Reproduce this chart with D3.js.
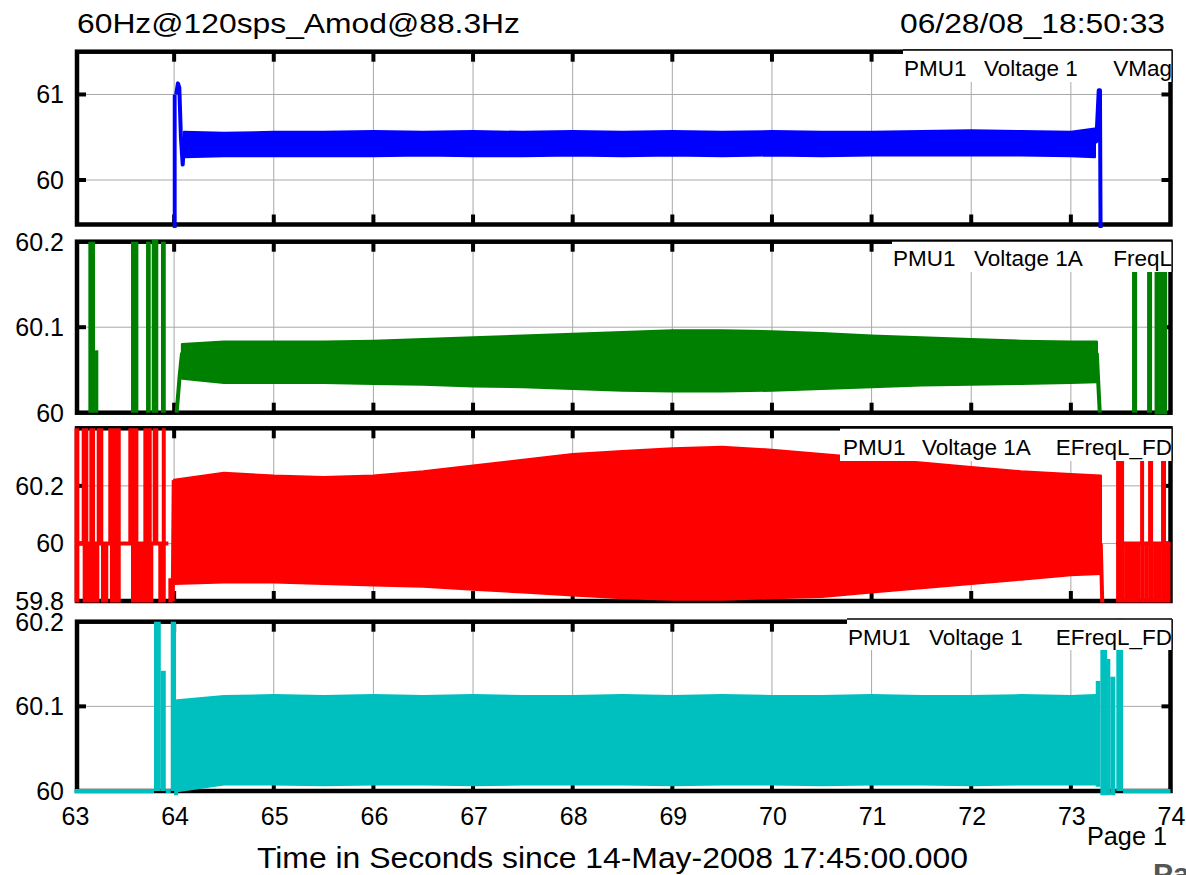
<!DOCTYPE html>
<html><head><meta charset="utf-8">
<script src="https://cdn.jsdelivr.net/npm/d3@7"></script>
<style>
body{margin:0;background:#fff;}
svg{display:block;}
text{font-family:"Liberation Sans",Arial,Helvetica,sans-serif;fill:#000;}
</style>
</head><body>
<svg id="c" width="1186" height="875"></svg>
<script>
// ---------------- DATA ----------------
const xTickValues = [63,64,65,66,67,68,69,70,71,72,73,74];
const xTickLabels = ["63","64","65","66","67","68","69","70","71","72","73","74"];
const titleLeft = "60Hz@120sps_Amod@88.3Hz";
const titleRight = "06/28/08_18:50:33";
const xAxisTitle = "Time in Seconds since 14-May-2008 17:45:00.000";
const pageLabel = "Page 1";

// Panel 1: PMU1 Voltage 1 VMag (envelope of the dense oscillation)
const vmagTimes = [64.1,64.5,65,65.5,66,66.5,67,67.5,68,68.5,69,69.5,70,70.5,71,71.5,72,72.5,73,73.24];
const vmagUpper = [60.56,60.55,60.56,60.56,60.57,60.56,60.57,60.56,60.57,60.56,60.57,60.56,60.57,60.56,60.56,60.57,60.58,60.57,60.56,60.60];
const vmagLower = [60.27,60.28,60.28,60.28,60.28,60.29,60.28,60.28,60.29,60.28,60.29,60.28,60.29,60.28,60.29,60.29,60.29,60.29,60.28,60.27];
const vmagBlocks = [[63.986,64.025,59.44,61.0]];
const vmagTraces = [
  [[64.02,61.0],[64.038,61.13],[64.052,61.08],[64.068,60.5],[64.086,60.18],[64.1,60.45]],
  [[73.24,60.6],[73.255,60.45],[73.28,61.05],[73.292,61.05],[73.298,59.44]]
];
const vmagYTicks = [60,61];
const vmagYLabels = ["60","61"];

// Panel 2: PMU1 Voltage 1A FreqL
const freqTimes = [64.08,64.5,65,65.5,66,66.5,67,67.5,68,68.5,69,69.5,70,70.5,71,71.5,72,72.5,73,73.26];
const freqUpper = [60.080,60.083,60.083,60.083,60.084,60.086,60.088,60.090,60.092,60.094,60.096,60.096,60.095,60.093,60.090,60.088,60.086,60.084,60.083,60.083];
const freqLower = [60.040,60.035,60.035,60.035,60.034,60.033,60.031,60.030,60.028,60.026,60.025,60.025,60.026,60.028,60.030,60.032,60.033,60.034,60.035,60.036];
const freqBlocks = [
  [63.139,63.206,60,60.2],[63.206,63.239,60,60.073],[63.567,63.641,60,60.2],
  [63.718,63.765,60,60.2],[63.775,63.841,60,60.202],[63.868,63.916,60,60.2],
  [73.614,73.665,60,60.2],[73.765,73.815,60,60.2],[73.84,73.966,59.998,60.2]
];
const freqTraces = [
  [[64.025,60.0],[64.055,60.042],[64.07,60.06],[64.08,60.07]],
  [[73.26,60.07],[73.29,60.0]]
];
const freqYTicks = [60,60.1,60.2];
const freqYLabels = ["60","60.1","60.2"];

// Panel 3: PMU1 Voltage 1A EFreqL_FD
const efreqATimes = [64.0,64.5,65,65.5,66,66.5,67,67.5,68,68.5,69,69.5,70,70.5,71,71.5,72,72.5,73,73.3];
const efreqAUpper = [60.22,60.245,60.235,60.23,60.235,60.25,60.27,60.29,60.31,60.32,60.33,60.335,60.325,60.31,60.295,60.28,60.265,60.25,60.24,60.235];
const efreqALower = [59.86,59.865,59.865,59.86,59.855,59.85,59.84,59.83,59.82,59.81,59.805,59.805,59.81,59.815,59.83,59.845,59.86,59.875,59.89,59.895];
const efreqABlocks = [
  [63.0,63.045,59.795,60.4],
  [63.072,63.139,60,60.4],[63.149,63.206,60,60.4],[63.223,63.289,60,60.4],[63.339,63.464,60,60.4],
  [63.540,63.641,60,60.4],[63.691,63.775,60,60.4],[63.785,63.841,60,60.4],[63.876,63.916,60,60.4],
  [63.082,63.249,59.795,60],[63.266,63.339,59.795,60],[63.356,63.464,59.795,60],
  [63.567,63.791,59.795,60],[63.841,63.916,59.795,60],[63.942,63.986,59.795,59.879],
  [73.454,73.534,59.795,60.4],[73.534,73.695,59.795,60],[73.695,73.735,59.795,60.4],
  [73.735,73.775,59.795,60],[73.775,73.825,59.795,60.4],[73.825,73.905,59.795,60],
  [73.905,73.955,59.795,60.4],[73.955,74.0,59.795,60]
];
const efreqATraces = [
  [[63.035,60.0],[63.942,60.0]],
  [[63.986,59.8],[63.996,60.22]],
  [[73.3,60.0],[73.315,59.795]],
  [[73.454,60.0],[74.0,60.0]]
];
const efreqAYTicks = [59.8,60,60.2];
const efreqAYLabels = ["59.8","60","60.2"];

// Panel 4: PMU1 Voltage 1 EFreqL_FD
const efreqTimes = [64.03,64.5,65,65.5,66,66.5,67,67.5,68,68.5,69,69.5,70,70.5,71,71.5,72,72.5,73,73.25];
const efreqUpper = [60.107,60.112,60.113,60.112,60.113,60.112,60.113,60.112,60.112,60.113,60.112,60.113,60.112,60.112,60.113,60.112,60.112,60.113,60.112,60.113];
const efreqLower = [60.000,60.008,60.008,60.007,60.008,60.008,60.007,60.008,60.008,60.008,60.007,60.008,60.008,60.007,60.008,60.008,60.007,60.008,60.008,60.008];
const efreqBlocks = [
  [63.798,63.866,60,60.2],[63.866,63.916,60,60.142],[63.966,64.019,60,60.2],
  [73.25,73.296,60.005,60.13],[73.296,73.363,59.995,60.2],[73.363,73.396,59.995,60.156],
  [73.396,73.446,59.995,60.135],[73.456,73.524,60,60.205]
];
const efreqTraces = [
  [[63.0,60.0],[63.798,60.0]],
  [[63.916,60.0],[63.966,60.0]],
  [[64.019,59.995],[64.03,60.05]],
  [[73.524,60.0],[74.0,60.0]]
];
const efreqYTicks = [60,60.1,60.2];
const efreqYLabels = ["60","60.1","60.2"];

// ---------------- LAYOUT ----------------
const panels = [
  {top:51.7,bottom:224.5,domain:[59.48,61.5],color:"#0000ff",
   times:vmagTimes,upper:vmagUpper,lower:vmagLower,blocks:vmagBlocks,traces:vmagTraces,
   yTicks:vmagYTicks,yLabels:vmagYLabels,grid:[60,61],
   box:{x0:903,y0:50,y1:82,base:76,tx:[904,984]},label:["PMU1","Voltage 1","VMag"]},
  {top:241.7,bottom:412.7,domain:[60,60.2],color:"#008000",
   times:freqTimes,upper:freqUpper,lower:freqLower,blocks:freqBlocks,traces:freqTraces,
   yTicks:freqYTicks,yLabels:freqYLabels,grid:[60.1],
   box:{x0:892,y0:241,y1:272,base:266,tx:[893,974]},label:["PMU1","Voltage 1A","FreqL"]},
  {top:428.3,bottom:601,domain:[59.8,60.4],color:"#ff0000",
   times:efreqATimes,upper:efreqAUpper,lower:efreqALower,blocks:efreqABlocks,traces:efreqATraces,
   yTicks:efreqAYTicks,yLabels:efreqAYLabels,grid:[60,60.2],
   box:{x0:840,y0:428,y1:461,base:455,tx:[843,922]},label:["PMU1","Voltage 1A","EFreqL_FD"]},
  {top:621.7,bottom:791,domain:[60,60.2],color:"#00bfbf",
   times:efreqTimes,upper:efreqUpper,lower:efreqLower,blocks:efreqBlocks,traces:efreqTraces,
   yTicks:efreqYTicks,yLabels:efreqYLabels,grid:[60.1],
   box:{x0:847,y0:619,y1:650,base:645,tx:[848,929]},label:["PMU1","Voltage 1","EFreqL_FD"]}
];

const svg = d3.select("#c");
const x = d3.scaleLinear().domain([63,74]).range([74.5,1170.5]);
const frameL = 77, frameR = 1170.5;
const innerTicks = xTickValues.filter(v => v > 63 && v < 74);

svg.append("text").attr("x",77).attr("y",33).attr("font-size",28)
  .attr("textLength",443).attr("lengthAdjust","spacingAndGlyphs").text(titleLeft);
svg.append("text").attr("x",900).attr("y",33).attr("font-size",28)
  .attr("textLength",265).attr("lengthAdjust","spacingAndGlyphs").text(titleRight);

const defs = svg.append("defs");

panels.forEach((p,i) => {
  const y = d3.scaleLinear().domain(p.domain).range([p.bottom,p.top]);
  const g = svg.append("g");

  // grid
  g.selectAll(".vg").data(innerTicks).join("line")
    .attr("x1",d=>x(d)).attr("x2",d=>x(d)).attr("y1",p.top).attr("y2",p.bottom)
    .attr("stroke","#a8a8a8").attr("stroke-width",1);
  g.selectAll(".hg").data(p.grid).join("line")
    .attr("x1",frameL).attr("x2",frameR).attr("y1",d=>y(d)).attr("y2",d=>y(d))
    .attr("stroke","#a8a8a8").attr("stroke-width",1);

  // frame
  g.append("rect").attr("x",frameL).attr("y",p.top).attr("width",frameR-frameL).attr("height",p.bottom-p.top)
    .attr("fill","none").attr("stroke","#000").attr("stroke-width",4.5);
  // x ticks (inward top & bottom)
  g.selectAll(".xt").data(innerTicks).join("line")
    .attr("x1",d=>x(d)).attr("x2",d=>x(d)).attr("y1",p.top).attr("y2",p.top+10)
    .attr("stroke","#000").attr("stroke-width",4);
  g.selectAll(".xb").data(innerTicks).join("line")
    .attr("x1",d=>x(d)).attr("x2",d=>x(d)).attr("y1",p.bottom).attr("y2",p.bottom-10)
    .attr("stroke","#000").attr("stroke-width",4);
  // y ticks (inward left & right)
  g.selectAll(".yl").data(p.grid).join("line")
    .attr("x1",frameL).attr("x2",frameL+9).attr("y1",d=>y(d)).attr("y2",d=>y(d))
    .attr("stroke","#000").attr("stroke-width",4);
  g.selectAll(".yr").data(p.grid).join("line")
    .attr("x1",frameR).attr("x2",frameR-9).attr("y1",d=>y(d)).attr("y2",d=>y(d))
    .attr("stroke","#000").attr("stroke-width",4);

  // y labels
  g.selectAll(".ylab").data(p.yTicks).join("text")
    .attr("x",64).attr("y",d=>y(d)+9).attr("text-anchor","end").attr("font-size",25)
    .text((d,k)=>p.yLabels[k]);

  // data
  defs.append("clipPath").attr("id","clip"+i).append("rect")
    .attr("x",72).attr("y",p.top-3).attr("width",1102).attr("height",p.bottom-p.top+8);
  const dg = g.append("g").attr("clip-path",`url(#clip${i})`);
  const band = p.times.map((t,k)=>({t, lo:p.lower[k], hi:p.upper[k]}));
  const area = d3.area().x(d=>x(d.t)).y0(d=>y(d.lo)).y1(d=>y(d.hi));
  dg.append("path").datum(band).attr("d",area)
    .attr("fill",p.color).attr("stroke",p.color).attr("stroke-width",2.5).attr("stroke-linejoin","round");
  dg.selectAll(".blk").data(p.blocks).join("rect")
    .attr("x",d=>x(d[0])).attr("width",d=>Math.max(0.5,x(d[1])-x(d[0])))
    .attr("y",d=>y(d[3])).attr("height",d=>y(d[2])-y(d[3]))
    .attr("fill",p.color);
  const line = d3.line().x(d=>x(d[0])).y(d=>y(d[1]));
  dg.selectAll(".trc").data(p.traces).join("path").attr("d",line)
    .attr("fill","none").attr("stroke",p.color).attr("stroke-width",4).attr("stroke-linejoin","round");

  // label box
  const b = p.box;
  g.append("rect").attr("x",b.x0).attr("y",b.y0).attr("width",1172-b.x0).attr("height",b.y1-b.y0).attr("fill","#fff");
  g.append("line").attr("x1",b.x0).attr("x2",1172).attr("y1",b.y0).attr("y2",b.y0).attr("stroke","#000").attr("stroke-width",1.5);
  g.append("line").attr("x1",1172).attr("x2",1172).attr("y1",b.y0).attr("y2",b.y1).attr("stroke","#000").attr("stroke-width",1.2);
  g.append("text").attr("x",b.tx[0]).attr("y",b.base).attr("font-size",22.5).text(p.label[0]);
  g.append("text").attr("x",b.tx[1]).attr("y",b.base).attr("font-size",22.5).text(p.label[1]);
  g.append("text").attr("x",1172).attr("y",b.base).attr("font-size",22.5).attr("text-anchor","end").text(p.label[2]);
});

// x tick labels
svg.selectAll(".xlab").data(xTickValues).join("text")
  .attr("x",d=>x(d)+1).attr("y",825).attr("text-anchor","middle").attr("font-size",25)
  .text((d,k)=>xTickLabels[k]);

svg.append("text").attr("x",257).attr("y",868).attr("font-size",30)
  .attr("textLength",711).attr("lengthAdjust","spacingAndGlyphs").text(xAxisTitle);
svg.append("text").attr("x",1087).attr("y",845).attr("font-size",25)
  .attr("textLength",80).attr("lengthAdjust","spacingAndGlyphs").text(pageLabel);
svg.append("text").attr("x",1153).attr("y",884).attr("font-size",30).attr("font-weight","bold")
  .style("fill","#555").text("Pa");
</script>
</body></html>
